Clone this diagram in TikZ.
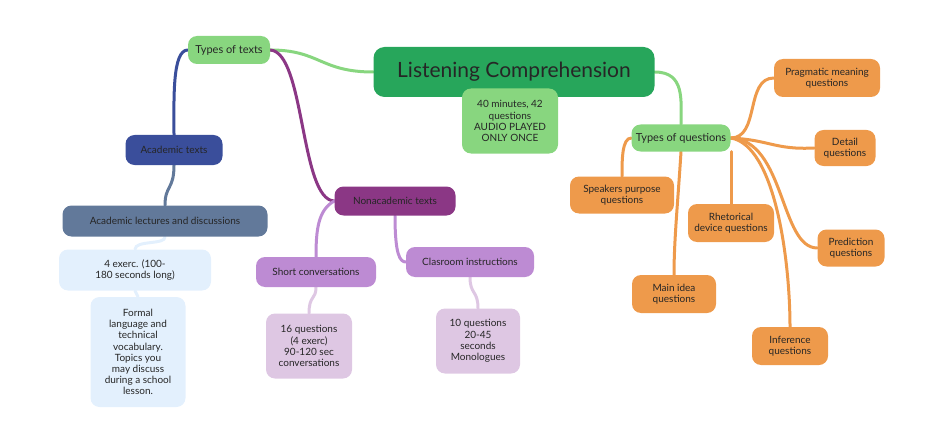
\documentclass[tikz,border=0pt]{standalone}
\usepackage{fontspec}
\setmainfont{Lato}
\usetikzlibrary{positioning,backgrounds}
\definecolor{lcgreen}{HTML}{27A65B}
\definecolor{ltgreen}{HTML}{88D67F}
\definecolor{acblue}{HTML}{3A4E9B}
\definecolor{slate}{HTML}{62799A}
\definecolor{paleblue}{HTML}{E3F0FD}
\definecolor{nonpurple}{HTML}{8B3785}
\definecolor{lavender}{HTML}{BD8BD3}
\definecolor{palepurple}{HTML}{DEC7E3}
\definecolor{qorange}{HTML}{EE9A4B}
\tikzset{
  box/.style={rounded corners=9pt, align=center, inner sep=2pt, text=black!85,
    font=\fontsize{10}{11.2}\selectfont},
  link/.style={line width=3pt, line cap=round},
}
\begin{document}
\begin{tikzpicture}[x=1pt,y=-1pt]
\useasboundingbox (0,0) rectangle (950,425);
\node[box, fill=lcgreen, minimum width=281pt, minimum height=50pt, rounded corners=11pt,
  font=\fontsize{21}{25}\selectfont] (lc) at (514,72) {Listening Comprehension};
\node[box, fill=ltgreen, minimum width=96pt, minimum height=65pt] (info) at (510,121)
  {40 minutes, 42\\questions\\AUDIO PLAYED\\ONLY ONCE};
\node[box, fill=ltgreen, minimum width=82pt, minimum height=28pt, font=\fontsize{11}{12}\selectfont] (tt) at (229,50) {Types of texts};
\node[box, fill=acblue, minimum width=97pt, minimum height=30pt] (acad) at (174,150) {Academic texts};
\node[box, fill=slate, minimum width=205pt, minimum height=31pt] (lect) at (165,221) {Academic lectures and discussions};
\node[box, fill=paleblue, minimum width=152pt, minimum height=41pt] (exerc) at (135,270) {4 exerc. (100-\\180 seconds long)};
\node[box, fill=paleblue, minimum width=95pt, minimum height=110pt] (formal) at (138,352)
  {Formal\\language and\\technical\\vocabulary.\\Topics you\\may discuss\\during a school\\lesson.};
\node[box, fill=nonpurple, minimum width=121pt, minimum height=29pt] (nonac) at (395,201) {Nonacademic texts};
\node[box, fill=lavender, minimum width=120pt, minimum height=30pt] (short) at (316,272) {Short conversations};
\node[box, fill=lavender, minimum width=128pt, minimum height=30pt] (clas) at (470,262) {Clasroom instructions};
\node[box, fill=palepurple, minimum width=86pt, minimum height=65pt] (qsixteen) at (309,346)
  {16 questions\\(4 exerc)\\90-120 sec\\conversations};
\node[box, fill=palepurple, minimum width=84pt, minimum height=65pt] (qten) at (478,341)
  {10 questions\\20-45\\seconds\\Monologues};
\node[box, fill=ltgreen, minimum width=99pt, minimum height=27pt, font=\fontsize{11}{12}\selectfont] (tq) at (681,138) {Types of questions};
\node[box, fill=qorange, minimum width=106pt, minimum height=38pt] (prag) at (827,78) {Pragmatic meaning\\questions};
\node[box, fill=qorange, minimum width=61pt, minimum height=36pt] (detail) at (845,148) {Detail\\questions};
\node[box, fill=qorange, minimum width=104pt, minimum height=37pt] (speak) at (622,195) {Speakers purpose\\questions};
\node[box, fill=qorange, minimum width=86pt, minimum height=38pt] (rhet) at (731,223) {Rhetorical\\device questions};
\node[box, fill=qorange, minimum width=67pt, minimum height=37pt] (pred) at (851,248) {Prediction\\questions};
\node[box, fill=qorange, minimum width=84pt, minimum height=38pt] (mainidea) at (674,294) {Main idea\\questions};
\node[box, fill=qorange, minimum width=76pt, minimum height=38pt] (infer) at (790,346) {Inference\\questions};
\begin{scope}[on background layer]
\draw[link, ltgreen] (lc.west) .. controls (320,72) and (320,50) .. (tt.east);
\draw[link, ltgreen] (lc.east) .. controls (685,72) and (681,100) .. (tq.north);
\draw[link, acblue] (tt.west) .. controls (172,50) and (174,100) .. (acad.north);
\draw[link, nonpurple] (tt.east) .. controls (305,52) and (300,200) .. (nonac.west);
\draw[link, slate] (acad.south) .. controls (174,190) and (165,185) .. (lect.north);
\draw[link, paleblue] (lect.south) .. controls (166,245) and (135,240) .. (exerc.north);
\draw[link, paleblue] (exerc.south) -- (formal.north);
\draw[link, lavender] (nonac.west) .. controls (318,210) and (316,230) .. (short.north);
\draw[link, lavender] (nonac.south) .. controls (395,255) and (400,262) .. (clas.west);
\draw[link, palepurple] (short.south) .. controls (316,300) and (309,295) .. (qsixteen.north);
\draw[link, palepurple] (clas.south) .. controls (470,295) and (478,290) .. (qten.north);
\draw[link, qorange] (tq.west) .. controls (622,138) and (622,160) .. (speak.north);
\draw[link, qorange] (tq.south) .. controls (678,200) and (674,240) .. (mainidea.north);
\draw[link, qorange] (rhet.north |- tq.south) -- (rhet.north);
\draw[link, qorange] (tq.east) .. controls (760,138) and (745,78) .. (prag.west);
\draw[link, qorange] (tq.east) .. controls (770,140) and (775,150) .. (detail.west);
\draw[link, qorange] (tq.east) .. controls (785,140) and (780,248) .. (pred.west);
\draw[link, qorange] (tq.east) .. controls (775,145) and (790,260) .. (infer.north);
\end{scope}
\end{tikzpicture}
\end{document}
